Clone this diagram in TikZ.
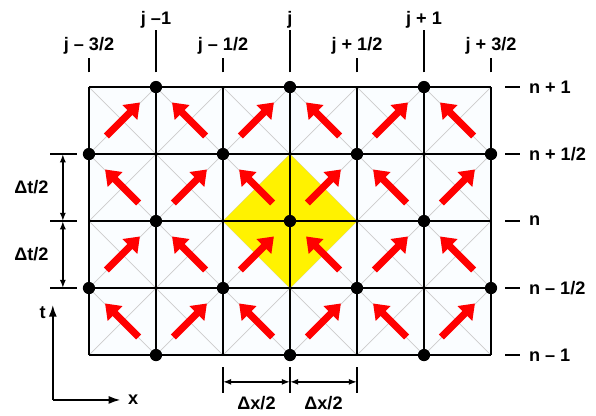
\documentclass[tikz,border=0pt]{standalone}
\usepackage{fontspec}
\setmainfont{Liberation Sans}
\usetikzlibrary{arrows.meta}

\begin{document}
\begin{tikzpicture}[x=1cm,y=1cm,
    font=\fontsize{7.7}{9}\selectfont\bfseries,
    cellline/.style={line width=0.9pt},
    diag/.style={gray!40,line width=0.3pt},
    flux/.style={red,line width=3pt,-{Triangle[length=6pt,width=8.5pt]}},
    gridpt/.style={circle,fill=black,inner sep=0pt,minimum size=5.2pt},
    tickline/.style={line width=0.7pt},
    dimline/.style={line width=0.7pt,{Latex[length=3.5pt,width=2.6pt]}-{Latex[length=3.5pt,width=2.6pt]}},
    axis/.style={line width=0.8pt,-{Latex[length=5pt,width=3.4pt]}}]
  \useasboundingbox (-1.328,-0.896) rectangle (7.567,5.299);
  % cells with their diagonals
  \fill[cyan!2] (0,0) rectangle (6,4);
  \foreach \c in {0,...,5}
    \foreach \r in {0,...,3}{
      \draw[diag] (\c,\r) -- (\c+1,\r+1);
      \draw[diag] (\c+1,\r) -- (\c,\r+1);
    }
  % conservation element round (j,n)
  \fill[yellow] (3,3) -- (4,2) -- (3,1) -- (2,2) -- cycle;
  % mesh
  \foreach \c in {0,...,6} \draw[cellline] (\c,0) -- (\c,4);
  \foreach \r in {0,...,4} \draw[cellline] (0,\r) -- (6,\r);
  % flux arrows, alternating NE / NW
  \foreach \c in {0,...,5}
    \foreach \r in {0,...,3}{
      \pgfmathtruncatemacro\odd{mod(\c+\r,2)}
      \ifnum\odd=1
        \draw[flux] (\c+0.26,\r+0.27) -- (\c+0.76,\r+0.77);
      \else
        \draw[flux] (\c+0.74,\r+0.27) -- (\c+0.24,\r+0.77);
      \fi
    }
  % solution points
  \foreach \r in {0,2,4}
    \foreach \c in {1,3,5} \node[gridpt] (p\c\r) at (\c,\r) {};
  \foreach \r in {1,3}
    \foreach \c in {0,2,4,6} \node[gridpt] (p\c\r) at (\c,\r) {};
  % j labels on top
  \foreach \c/\txt in {1/{j --1},3/{j},5/{j + 1}}{
    \draw[tickline] (\c,4.22) -- (\c,4.85);
    \node (jl\c) at (\c,5.0) {\txt};
  }
  \foreach \c/\txt in {0/{j -- 3/2},2/{j -- 1/2},4/{j + 1/2},6/{j + 3/2}}{
    \draw[tickline] (\c,4.22) -- (\c,4.43);
    \node (jl\c) at (\c,4.61) {\txt};
  }
  % n labels on the right
  \foreach \r/\txt in {4/{n + 1},3/{n + 1/2},2/{n},1/{n -- 1/2},0/{n -- 1}}{
    \draw[tickline] (6.21,\r) -- (6.43,\r);
    \node[anchor=west,inner sep=0pt] (nl\r) at (6.56,\r) {\txt};
  }
  % half time step
  \foreach \r in {1,2,3} {
    \draw[tickline] (-0.58,\r) -- (-0.18,\r);
    \coordinate (dt\r) at (-0.39,\r);
  }
  \draw[dimline] (dt3) -- (dt2);
  \draw[dimline] (dt2) -- (dt1);
  \node (dtup) at (-0.86,2.5) {Δt/2};
  \node (dtlo) at (-0.86,1.5) {Δt/2};
  % half space step
  \foreach \c in {2,3,4} {
    \draw[tickline] (\c,-0.18) -- (\c,-0.57);
    \coordinate (dx\c) at (\c,-0.40);
  }
  \draw[dimline] (dx2) -- (dx3);
  \draw[dimline] (dx3) -- (dx4);
  \node (dxl) at (2.5,-0.72) {Δx/2};
  \node (dxr) at (3.5,-0.72) {Δx/2};
  % axes
  \coordinate (o) at (-0.54,-0.67);
  \coordinate (tend) at (-0.54,0.75);
  \coordinate (xend) at (0.47,-0.67);
  \draw[axis] (o) -- (tend);
  \draw[axis] (o) -- (xend);
  \node (tlab) at (-0.69,0.64) {t};
  \node (xlab) at (0.66,-0.67) {x};
\end{tikzpicture}
\end{document}
